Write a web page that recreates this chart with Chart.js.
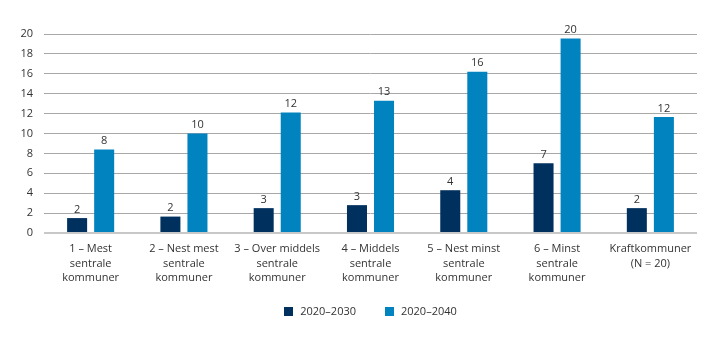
<!DOCTYPE html>
<html><head><meta charset="utf-8">
<script src="https://cdn.jsdelivr.net/npm/chart.js@4"></script>
<style>html,body{margin:0;padding:0;background:#fff}#wrap{width:719px;height:341px;position:relative}</style>
</head><body><div id="wrap"><canvas id="c" width="719" height="341"></canvas></div>
<script>
const categories = [
  ["1 – Mest","sentrale","kommuner"],
  ["2 – Nest mest","sentrale","kommuner"],
  ["3 – Over middels","sentrale","kommuner"],
  ["4 – Middels","sentrale","kommuner"],
  ["5 – Nest minst","sentrale","kommuner"],
  ["6 – Minst","sentrale","kommuner"],
  ["Kraftkommuner","(N = 20)"]
];
const seriesNames = ["2020–2030","2020–2040"];
const values2030 = [1.5, 1.65, 2.5, 2.8, 4.3, 7.0, 2.5];
const values2040 = [8.4, 10.0, 12.1, 13.3, 16.2, 19.55, 11.65];
const labels2030 = ["2","2","3","3","4","7","2"];
const labels2040 = ["8","10","12","13","16","20","12"];
const yTicks = [0,2,4,6,8,10,12,14,16,18,20];
const seriesColors = ['#00305e', '#0083be'];

const FONT = "'Open Sans', 'Noto Sans', sans-serif";
const valueLabels = [labels2030, labels2040];

const labelPlugin = {
  id: 'valLabels',
  afterDatasetsDraw(chart) {
    const ctx = chart.ctx;
    ctx.save();
    ctx.font = "11px " + FONT;
    ctx.fillStyle = "#333";
    ctx.textAlign = "center";
    ctx.textBaseline = "bottom";
    chart.data.datasets.forEach((ds, i) => {
      chart.getDatasetMeta(i).data.forEach((bar, j) => {
        ctx.fillText(valueLabels[i][j], bar.x, bar.y - 3);
      });
    });
    ctx.restore();
  }
};

const legendPlugin = {
  id: 'customLegend',
  afterDraw(chart) {
    const ctx = chart.ctx;
    ctx.save();
    ctx.font = "11px " + FONT;
    ctx.textBaseline = "middle";
    ctx.textAlign = "left";
    const box = 9, gap = 7, itemGap = 29;
    const items = chart.data.datasets.map(d => ({ text: d.label, color: d.backgroundColor, w: ctx.measureText(d.label).width }));
    let total = 0;
    items.forEach((it, i) => { total += box + gap + it.w + (i ? itemGap : 0); });
    const ca = chart.chartArea;
    let x = (ca.left + ca.right) / 2 - total / 2;
    const cy = 311;
    items.forEach((it) => {
      ctx.fillStyle = it.color;
      ctx.fillRect(Math.round(x), cy - 4, box, box);
      ctx.fillStyle = '#333';
      ctx.fillText(it.text, x + box + gap, cy + 0.5);
      x += box + gap + it.w + itemGap;
    });
    ctx.restore();
  }
};

new Chart(document.getElementById('c'), {
  type: 'bar',
  data: {
    labels: categories,
    datasets: [
      { label: seriesNames[0], data: values2030, backgroundColor: seriesColors[0] },
      { label: seriesNames[1], data: values2040, backgroundColor: seriesColors[1] }
    ]
  },
  options: {
    responsive: false,
    animation: false,
    devicePixelRatio: 1,
    layout: { padding: { left: 0, right: 22, top: 34, bottom: 0 } },
    datasets: { bar: { categoryPercentage: 0.58, barPercentage: 0.74 } },
    plugins: {
      legend: { display: false },
      tooltip: { enabled: false }
    },
    scales: {
      x: {
        afterFit: (axis) => { axis.height = 108; },
        grid: { display: false },
        border: { display: false },
        ticks: { color: '#333', font: { family: FONT, size: 11, lineHeight: 1.3 }, maxRotation: 0, autoSkip: false, padding: 1 }
      },
      y: {
        min: 0, max: 20,
        afterFit: (axis) => { axis.width = 44; },
        afterBuildTicks: (axis) => { axis.ticks = yTicks.map(v => ({ value: v })); },
        grid: {
          color: (c) => c.tick && c.tick.value === 0 ? '#c8c8c8' : '#a8a8a8',
          lineWidth: (c) => c.tick && c.tick.value === 0 ? 2 : 1,
          drawTicks: false
        },
        border: { display: false },
        ticks: { color: '#333', font: { family: FONT, size: 11 }, padding: 11 }
      }
    }
  },
  plugins: [labelPlugin, legendPlugin]
});
</script></body></html>
